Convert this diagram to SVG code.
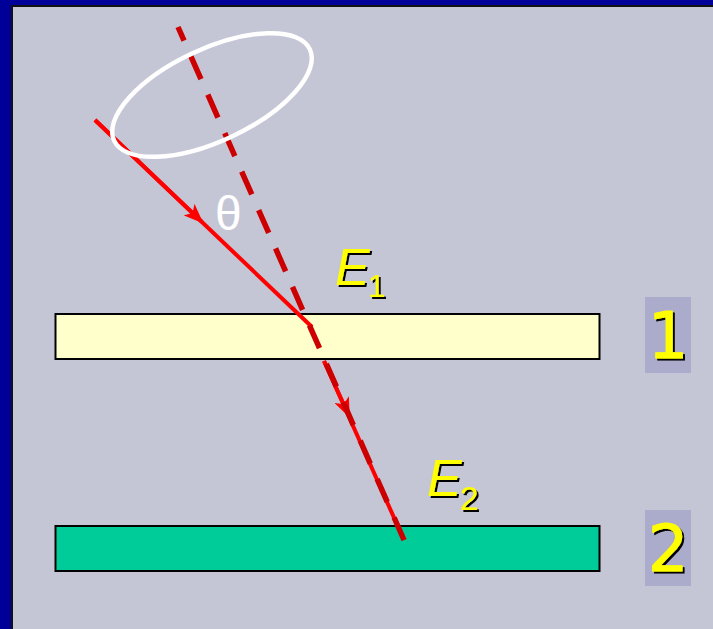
<svg xmlns="http://www.w3.org/2000/svg" width="713" height="629" viewBox="0 0 713 629">
<defs>
<style>
.lbl{font-family:"Liberation Sans",Arial,sans-serif;fill:#FFFF00;filter:url(#sh)}
.it{font-style:italic}
.num{font-family:"DejaVu Sans","Liberation Sans",sans-serif;font-size:64px;fill:#FFFF00;stroke:#FFFF00;stroke-width:0.8;filter:url(#sh)}
.ray{stroke:#FF0000;stroke-width:4;fill:none}
.axis{stroke:#CC0000;stroke-width:5.5;fill:none;stroke-dasharray:25 17}
</style>
<filter id="sh" x="-20%" y="-20%" width="150%" height="150%">
<feOffset in="SourceAlpha" dx="2" dy="2" result="o"/>
<feFlood flood-color="#000000"/>
<feComposite in2="o" operator="in" result="s"/>
<feMerge><feMergeNode in="s"/><feMergeNode in="SourceGraphic"/></feMerge>
</filter>
<marker id="arr" viewBox="0 0 20 16" refX="18" refY="8" markerWidth="20" markerHeight="16" markerUnits="userSpaceOnUse" orient="auto">
<path d="M0,0 L20,8 L0,16 L5,8 Z" fill="#FF0000"/>
</marker>
</defs>
<rect x="0" y="0" width="713" height="629" fill="#000099"/>
<rect x="12" y="6" width="710" height="640" fill="#C4C6D6" stroke="#111111" stroke-width="2"/>

<g id="plate1">
<rect x="55.5" y="314" width="544" height="45" fill="#FFFFCC" stroke="#000" stroke-width="2"/>
</g>
<g id="plate2">
<rect x="55.5" y="526" width="544" height="45" fill="#00CC99" stroke="#000" stroke-width="2"/>
</g>

<g id="connectors">
<line class="ray" x1="95" y1="120" x2="312" y2="327"/>
<line class="ray" x1="95" y1="120" x2="202" y2="222" marker-end="url(#arr)"/>
<line class="ray" x1="324" y1="361" x2="404" y2="540"/>
<line class="ray" x1="324" y1="361" x2="349" y2="416" marker-end="url(#arr)"/>
<line class="axis" x1="178" y1="27" x2="404" y2="540" stroke-dashoffset="10"/>
</g>

<g id="cone">
<ellipse cx="212" cy="95" rx="108" ry="46" transform="rotate(-25 212 95)" fill="none" stroke="#FFFFFF" stroke-width="4.5"/>
</g>

<g id="theta">
<text x="215" y="230" font-family="Liberation Sans,Arial,sans-serif" font-size="48" fill="#FFFFFF">θ</text>
</g>

<g id="E1">
<text class="lbl" x="335" y="285" font-size="52"><tspan class="it">E</tspan><tspan font-size="32" dx="-2" dy="12">1</tspan></text>
</g>

<g id="E2">
<text class="lbl" x="427" y="496" font-size="52"><tspan class="it">E</tspan><tspan font-size="34" dx="-2" dy="14">2</tspan></text>
</g>

<g id="label1">
<rect x="645" y="297" width="46" height="76" fill="#ABABCB"/>
<text class="num" x="668" y="358" text-anchor="middle">1</text>
</g>
<g id="label2">
<rect x="645" y="510" width="46" height="76" fill="#ABABCB"/>
<text class="num" x="668" y="571" text-anchor="middle">2</text>
</g>
</svg>
